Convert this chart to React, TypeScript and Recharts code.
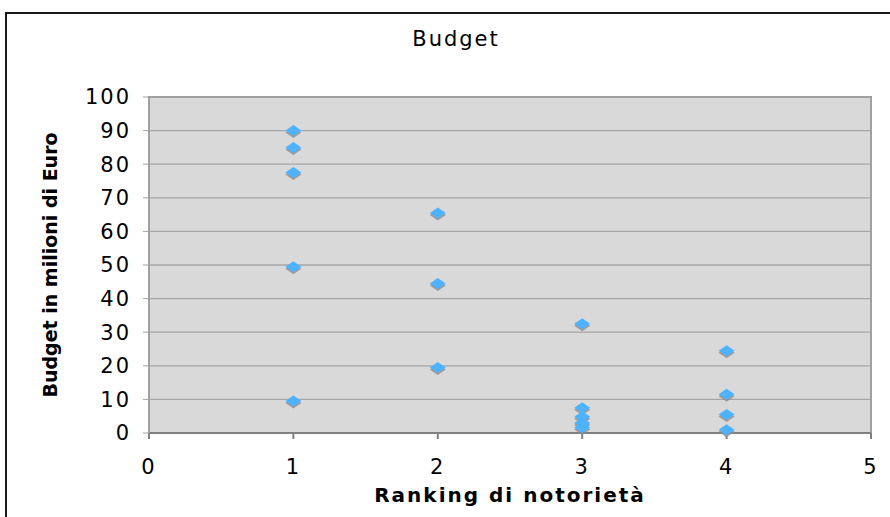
import React from 'react';
import {
  ScatterChart,
  Scatter,
  XAxis,
  YAxis,
  CartesianGrid,
  ReferenceArea,
} from 'recharts';

// Ranking (x) and budget in millions of euro (y)
const ranking = [1, 1, 1, 1, 1, 2, 2, 2, 3, 3, 3, 3, 3, 4, 4, 4, 4];
const budget = [90, 85, 77.5, 49.5, 9.5, 65.5, 44.5, 19.5, 32.5, 7.5, 4.8, 3, 1.6, 24.5, 11.5, 5.5, 1];

const xTicks = [0, 1, 2, 3, 4, 5];
const yTicks = [0, 10, 20, 30, 40, 50, 60, 70, 80, 90, 100];

const chartTitle = 'Budget';
const xLabel = 'Ranking di notorietà';
const yLabel = 'Budget in milioni di Euro';

const points = ranking.map((r, i) => ({ x: r, y: budget[i] }));

const FONT = '"DejaVu Sans", Verdana, sans-serif';

// diamond marker with a soft grey drop shadow, like the old Excel look
const Diamond = (props: any) => {
  const { cx, cy } = props;
  if (cx == null || cy == null) return null;
  const w = 8;
  const h = 5.5;
  const d = (ox: number, oy: number) =>
    `M${cx + ox},${cy - h + oy} L${cx + w + ox},${cy + oy} L${cx + ox},${cy + h + oy} L${cx - w + ox},${cy + oy} Z`;
  return (
    <g>
      <path d={d(0, 2)} fill="#8c8c8c" opacity={0.8} />
      <path d={d(0, 0)} fill="#4db2ff" />
    </g>
  );
};

export default function App() {
  return (
    <div
      style={{
        position: 'absolute',
        left: 0,
        top: 0,
        width: 890,
        height: 517,
        overflow: 'hidden',
        background: '#fff',
      }}
    >
      {/* outer chart frame */}
      <div
        style={{
          position: 'absolute',
          left: 5,
          top: 12,
          width: 950,
          height: 600,
          border: '2px solid #1a1a1a',
        }}
      />
      <div
        style={{
          position: 'absolute',
          left: 0,
          width: 912,
          top: 27,
          textAlign: 'center',
          fontFamily: FONT,
          fontSize: 21,
          letterSpacing: 2,
          color: '#000',
        }}
      >
        {chartTitle}
      </div>
      <div style={{ position: 'absolute', left: 0, top: 0 }}>
        <ScatterChart
          width={890}
          height={517}
          margin={{ top: 97, right: 19, bottom: 54, left: 89 }}
        >
          <CartesianGrid
            vertical={false}
            stroke="#a6a6a6"
            strokeWidth={1.3}
            fill="#d9d9d9"
          />
          <ReferenceArea
            x1={0}
            x2={5}
            y1={0}
            y2={100}
            fill="none"
            stroke="#a0a0a0"
            strokeWidth={2}
          />
          <XAxis
            type="number"
            dataKey="x"
            domain={[0, 5]}
            ticks={xTicks}
            height={30}
            stroke="#808080"
            strokeWidth={2}
            tickSize={6}
            tickMargin={20}
            tick={{ fill: '#000', fontSize: 21, fontFamily: FONT, letterSpacing: 2 }}
            label={{
              value: xLabel,
              position: 'bottom',
              offset: 25,
              style: { fontSize: 20, fontWeight: 'bold', fontFamily: FONT, fill: '#000', letterSpacing: 2 },
            }}
          />
          <YAxis
            type="number"
            dataKey="y"
            domain={[0, 100]}
            ticks={yTicks}
            width={60}
            stroke="#a0a0a0"
            tickSize={6}
            tickMargin={12}
            tick={{ fill: '#000', fontSize: 21, fontFamily: FONT, letterSpacing: 2 }}
            label={{
              value: yLabel,
              angle: -90,
              position: 'left',
              offset: 39,
              style: { fontSize: 19, fontWeight: 'bold', fontFamily: FONT, fill: '#000', textAnchor: 'middle' },
            }}
          />
          <Scatter data={points} shape={Diamond} isAnimationActive={false} />
        </ScatterChart>
      </div>
    </div>
  );
}
